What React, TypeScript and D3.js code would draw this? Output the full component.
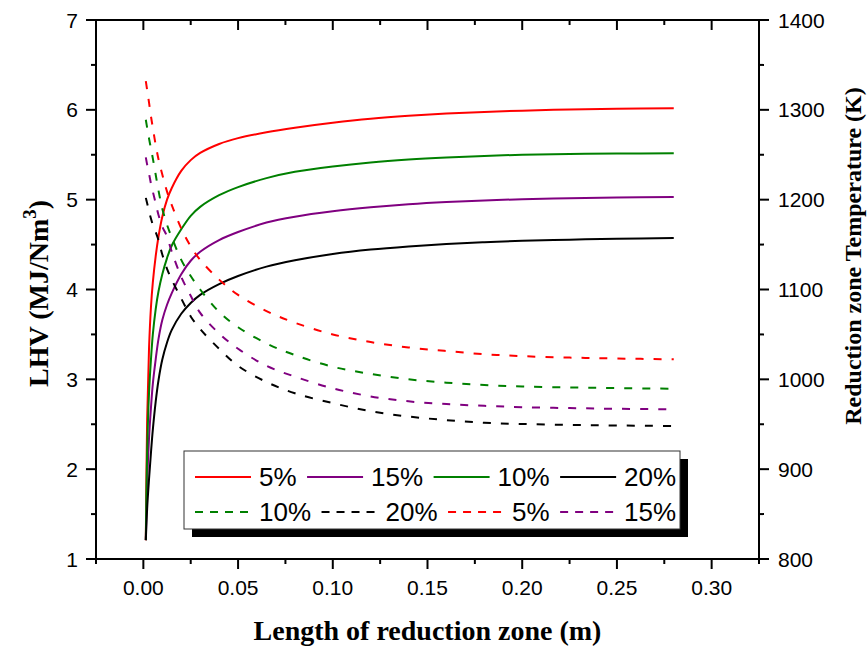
import React from "react";
import * as d3 from "d3";

// Length of reduction zone (m)
const xs = [0.0013, 0.002, 0.003, 0.004, 0.005, 0.0065, 0.008, 0.01, 0.0125, 0.015, 0.02, 0.025, 0.03, 0.04, 0.05, 0.065, 0.08, 0.1, 0.12, 0.14, 0.16, 0.18, 0.2, 0.225, 0.25, 0.28];

// LHV (MJ/Nm3) – solid lines, left axis
const lhv5 = [1.21, 2.55, 3.35, 3.8, 4.08, 4.37, 4.59, 4.81, 5.0, 5.13, 5.32, 5.44, 5.52, 5.62, 5.685, 5.75, 5.8, 5.855, 5.9, 5.933, 5.958, 5.977, 5.991, 6.004, 6.012, 6.017];
const lhv10 = [1.21, 2.2, 2.85, 3.215, 3.5, 3.78, 3.98, 4.17, 4.35, 4.49, 4.67, 4.82, 4.92, 5.05, 5.14, 5.24, 5.31, 5.37, 5.415, 5.447, 5.47, 5.487, 5.5, 5.508, 5.513, 5.516];
const lhv15 = [1.21, 1.85, 2.35, 2.68, 2.95, 3.22, 3.45, 3.66, 3.83, 3.96, 4.17, 4.32, 4.42, 4.55, 4.64, 4.745, 4.81, 4.87, 4.915, 4.95, 4.975, 4.992, 5.005, 5.016, 5.024, 5.03];
const lhv20 = [1.21, 1.56, 1.89, 2.18, 2.44, 2.75, 2.99, 3.22, 3.41, 3.55, 3.73, 3.85, 3.94, 4.06, 4.15, 4.255, 4.325, 4.395, 4.445, 4.48, 4.507, 4.527, 4.542, 4.555, 4.565, 4.572];

// Reduction zone temperature (K) – dashed lines, right axis
const temp5 = [1332, 1322, 1308, 1293, 1280, 1261, 1245, 1228, 1209, 1194, 1168, 1148, 1133, 1111, 1094, 1076, 1063, 1050, 1041.5, 1035.5, 1031.5, 1028, 1025.8, 1024.2, 1023.2, 1022.3];
const temp10 = [1289, 1280, 1268, 1257, 1246, 1228, 1210, 1190, 1172, 1158, 1133, 1115, 1100, 1075, 1058, 1040, 1027, 1014, 1006, 1000, 996.3, 993.7, 992, 991, 990.2, 989.6];
const temp15 = [1247, 1239, 1229, 1218, 1209, 1196, 1183, 1170, 1159, 1142, 1114, 1093, 1074, 1051, 1034, 1015, 1003, 990, 981, 975.5, 972.5, 970.5, 969, 968, 967.2, 966.6];
const temp20 = [1202, 1196, 1187, 1179, 1172, 1164, 1155, 1139, 1123, 1111, 1090, 1070, 1056, 1034, 1015, 997, 984.5, 973.5, 964.5, 958.6, 954.6, 951.7, 950.3, 949.3, 948.6, 948];

const xTicks = [0, 0.05, 0.1, 0.15, 0.2, 0.25, 0.3];
const xMinor = [-0.025, 0.025, 0.075, 0.125, 0.175, 0.225, 0.275, 0.325];
const yLeftTicks = [1, 2, 3, 4, 5, 6, 7];
const yLeftMinor = [1.5, 2.5, 3.5, 4.5, 5.5, 6.5];
const yRightTicks = [800, 900, 1000, 1100, 1200, 1300, 1400];
const yRightMinor = [850, 950, 1050, 1150, 1250, 1350];

const solidSeries = [
  { label: "5%", values: lhv5, color: "#FF0000" },
  { label: "15%", values: lhv15, color: "#800080" },
  { label: "10%", values: lhv10, color: "#008000" },
  { label: "20%", values: lhv20, color: "#000000" },
];
const dashedSeries = [
  { label: "10%", values: temp10, color: "#008000" },
  { label: "20%", values: temp20, color: "#000000" },
  { label: "5%", values: temp5, color: "#FF0000" },
  { label: "15%", values: temp15, color: "#800080" },
];

const W = 868, H = 653;
const L = 96, R = 759, T = 20, B = 559;

const x = d3.scaleLinear().domain([-0.025, 0.325]).range([L, R]);
const yL = d3.scaleLinear().domain([1, 7]).range([B, T]);
const yR = d3.scaleLinear().domain([800, 1400]).range([B, T]);

const fmt2 = d3.format(".2f");

function textW(s: string, size: number) {
  let w = 0;
  for (const c of s) w += c === "%" ? 0.889 : 0.556;
  return w * size;
}

export default function App() {
  const curve = d3.curveCatmullRom.alpha(0.5);
  const lineL = d3.line<number>().x((_, i) => x(xs[i])).y((d) => yL(d)).curve(curve);
  const lineR = d3.line<number>().x((_, i) => x(xs[i])).y((d) => yR(d)).curve(curve);

  const sans = "'Liberation Sans', Arial, sans-serif";
  const serif = "'Liberation Serif', 'Times New Roman', serif";
  const tickFs = 21;
  const legFs = 26;

  // legend layout
  const legX0 = 195, legLine = 56, legTextOff = 8, legGap = 10.5;
  const rows = [
    { items: solidSeries, dashed: false, y: 477 },
    { items: dashedSeries, dashed: true, y: 512 },
  ];

  return (
    <svg width={W} height={H} style={{ position: "absolute", left: 0, top: 0, background: "#fff" }}>
      <rect x={0} y={0} width={W} height={H} fill="#fff" />
      {/* series */}
      {solidSeries.map((s, i) => (
        <path key={"s" + i} d={lineL(s.values) || ""} fill="none" stroke={s.color} strokeWidth={2} />
      ))}
      {dashedSeries.map((s, i) => (
        <path key={"d" + i} d={lineR(s.values) || ""} fill="none" stroke={s.color} strokeWidth={2} strokeDasharray="8,10" />
      ))}

      {/* axes frame */}
      <g stroke="#000" strokeWidth={2} fill="none">
        <line x1={L} x2={R} y1={B} y2={B} />
        <line x1={L} x2={R} y1={T} y2={T} />
        <line x1={L} x2={L} y1={T} y2={B} />
        <line x1={R} x2={R} y1={T} y2={B} />
        {xTicks.map((t) => (
          <g key={"xt" + t}>
            <line x1={x(t)} x2={x(t)} y1={B} y2={B + 10} />
            <line x1={x(t)} x2={x(t)} y1={T} y2={T + 10} />
          </g>
        ))}
        {xMinor.map((t) => (
          <g key={"xm" + t}>
            <line x1={x(t)} x2={x(t)} y1={B} y2={B + 5} />
            <line x1={x(t)} x2={x(t)} y1={T} y2={T + 5} />
          </g>
        ))}
        {yLeftTicks.map((t) => (
          <line key={"yl" + t} x1={L - 10} x2={L} y1={yL(t)} y2={yL(t)} />
        ))}
        {yLeftMinor.map((t) => (
          <line key={"ylm" + t} x1={L - 5} x2={L} y1={yL(t)} y2={yL(t)} />
        ))}
        {yRightTicks.map((t) => (
          <line key={"yr" + t} x1={R} x2={R + 10} y1={yR(t)} y2={yR(t)} />
        ))}
        {yRightMinor.map((t) => (
          <line key={"yrm" + t} x1={R} x2={R + 5} y1={yR(t)} y2={yR(t)} />
        ))}
      </g>

      {/* tick labels */}
      <g fontFamily={sans} fontSize={tickFs} fill="#000">
        {xTicks.map((t) => (
          <text key={"xl" + t} x={x(t)} y={595} textAnchor="middle">{fmt2(t)}</text>
        ))}
        {yLeftTicks.map((t) => (
          <text key={"yll" + t} x={78} y={yL(t) + 7.5} textAnchor="end">{t}</text>
        ))}
        {yRightTicks.map((t) => (
          <text key={"yrl" + t} x={778} y={yR(t) + 7.5} textAnchor="start">{t}</text>
        ))}
      </g>

      {/* axis titles */}
      <text x={(L + R) / 2} y={640} textAnchor="middle" fontFamily={serif} fontWeight="bold" fontSize={28}>
        Length of reduction zone (m)
      </text>
      <text transform={`translate(48, ${(T + B) / 2 + 4}) rotate(-90)`} textAnchor="middle" fontFamily={serif} fontWeight="bold" fontSize={28}>
        LHV (MJ/Nm<tspan fontSize={19} dy={-12}>3</tspan><tspan dy={12}>)</tspan>
      </text>
      <text transform={`translate(861, 256) rotate(-90)`} textAnchor="middle" fontFamily={serif} fontWeight="bold" fontSize={24}>
        Reduction zone Temperature (K)
      </text>

      {/* legend */}
      <rect x={192} y={459} width={496} height={78} fill="#000" />
      <rect x={184} y={451} width={496} height={78} fill="#fff" stroke="#333" strokeWidth={1} />
      {rows.map((row, ri) => {
        let cx = legX0;
        return (
          <g key={"row" + ri}>
            {row.items.map((it, ii) => {
              const x0 = cx;
              const tx = x0 + legLine + legTextOff;
              cx = tx + textW(it.label, legFs) + legGap;
              return (
                <g key={"li" + ii}>
                  <line x1={x0} x2={x0 + legLine} y1={row.y} y2={row.y} stroke={it.color} strokeWidth={2}
                    strokeDasharray={row.dashed ? "8,7" : undefined} />
                  <text x={tx} y={row.y + 9} fontFamily={sans} fontSize={legFs} fill="#000">{it.label}</text>
                </g>
              );
            })}
          </g>
        );
      })}
    </svg>
  );
}
